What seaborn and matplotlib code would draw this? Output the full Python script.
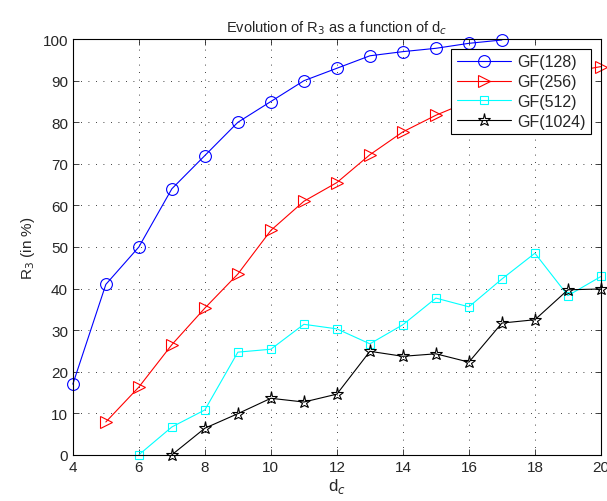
import numpy as np
import pandas as pd
import seaborn as sns
import matplotlib.pyplot as plt

# values
d_128 = [4, 5, 6, 7, 8, 9, 10, 11, 12, 13, 14, 15, 16, 17]
r_128 = [17, 41, 50, 64, 72, 80, 85, 90, 93, 96, 97, 97.8, 99, 99.8]

d_256 = [5, 6, 7, 8, 9, 10, 11, 12, 13, 14, 15, 16, 17, 18, 19, 20]
r_256 = [7.9, 16.3, 26.5, 35.3, 43.5, 54, 61, 65.5, 72.2, 77.7, 81.7, 85, 88, 90, 92, 93.4]

d_512 = [6, 7, 8, 9, 10, 11, 12, 13, 14, 15, 16, 17, 18, 19, 20]
r_512 = [0, 6.7, 10.8, 24.7, 25.4, 31.4, 30.3, 26.7, 31.3, 37.7, 35.6, 42.3, 48.5, 38.3, 42.9]

d_1024 = [7, 8, 9, 10, 11, 12, 13, 14, 15, 16, 17, 18, 19, 20]
r_1024 = [0, 6.4, 9.9, 13.6, 12.7, 14.6, 24.9, 23.7, 24.3, 22.3, 31.7, 32.5, 39.7, 39.9]

labels = ["GF(128)", "GF(256)", "GF(512)", "GF(1024)"]
colors = ["#0000ff", "#ff0000", "#00ffff", "#000000"]
markers = ["o", ">", "s", "*"]
msizes = [8.5, 8.5, 6, 9.5]

x_ticks = list(range(4, 21, 2))
y_ticks = list(range(0, 101, 10))

sns.set_style("ticks")
plt.rcParams['font.family'] = ['Liberation Sans', 'DejaVu Sans']
plt.rcParams['font.size'] = 10.5
plt.rcParams['xtick.direction'] = 'in'
plt.rcParams['ytick.direction'] = 'in'

fig, ax = plt.subplots(figsize=(6.07, 5.02), dpi=100)
fig.subplots_adjust(left=0.120, right=0.990, top=0.920, bottom=0.092)

series = [(d_128, r_128), (d_256, r_256), (d_512, r_512), (d_1024, r_1024)]
for (xs, ys), lab, c, m, ms in zip(series, labels, colors, markers, msizes):
    df = pd.DataFrame({"d_c": xs, "R3": ys})
    sns.lineplot(data=df, x="d_c", y="R3", ax=ax, color=c, marker=m,
                 markersize=ms, markerfacecolor="none", markeredgecolor=c,
                 markeredgewidth=0.8, linewidth=0.8, label=lab, clip_on=False)

ax.set_xlim(4, 20)
ax.set_ylim(0, 100)
ax.set_xticks(x_ticks)
ax.set_yticks(y_ticks)
ax.grid(True, color='black', linestyle=(0, (1, 8)), linewidth=0.6)
for sp in ax.spines.values():
    sp.set_color('black')
    sp.set_linewidth(0.8)
ax.tick_params(top=True, right=True, length=4, width=0.6, labelsize=11)

ax.set_title("Evolution of R$_3$ as a function of d$_c$", fontsize=10.5)
ax.set_xlabel("d$_c$", fontsize=12, labelpad=2)
ax.set_ylabel("R$_3$ (in %)", fontsize=11)

leg = ax.legend(loc="upper right", fancybox=False, framealpha=1, edgecolor='black',
                handlelength=3.4, fontsize=11.5, borderaxespad=0.6,
                labelspacing=0.3, handletextpad=0.4, borderpad=0.35)
leg.get_frame().set_linewidth(0.8)

fig.savefig("out.png", dpi=100)
